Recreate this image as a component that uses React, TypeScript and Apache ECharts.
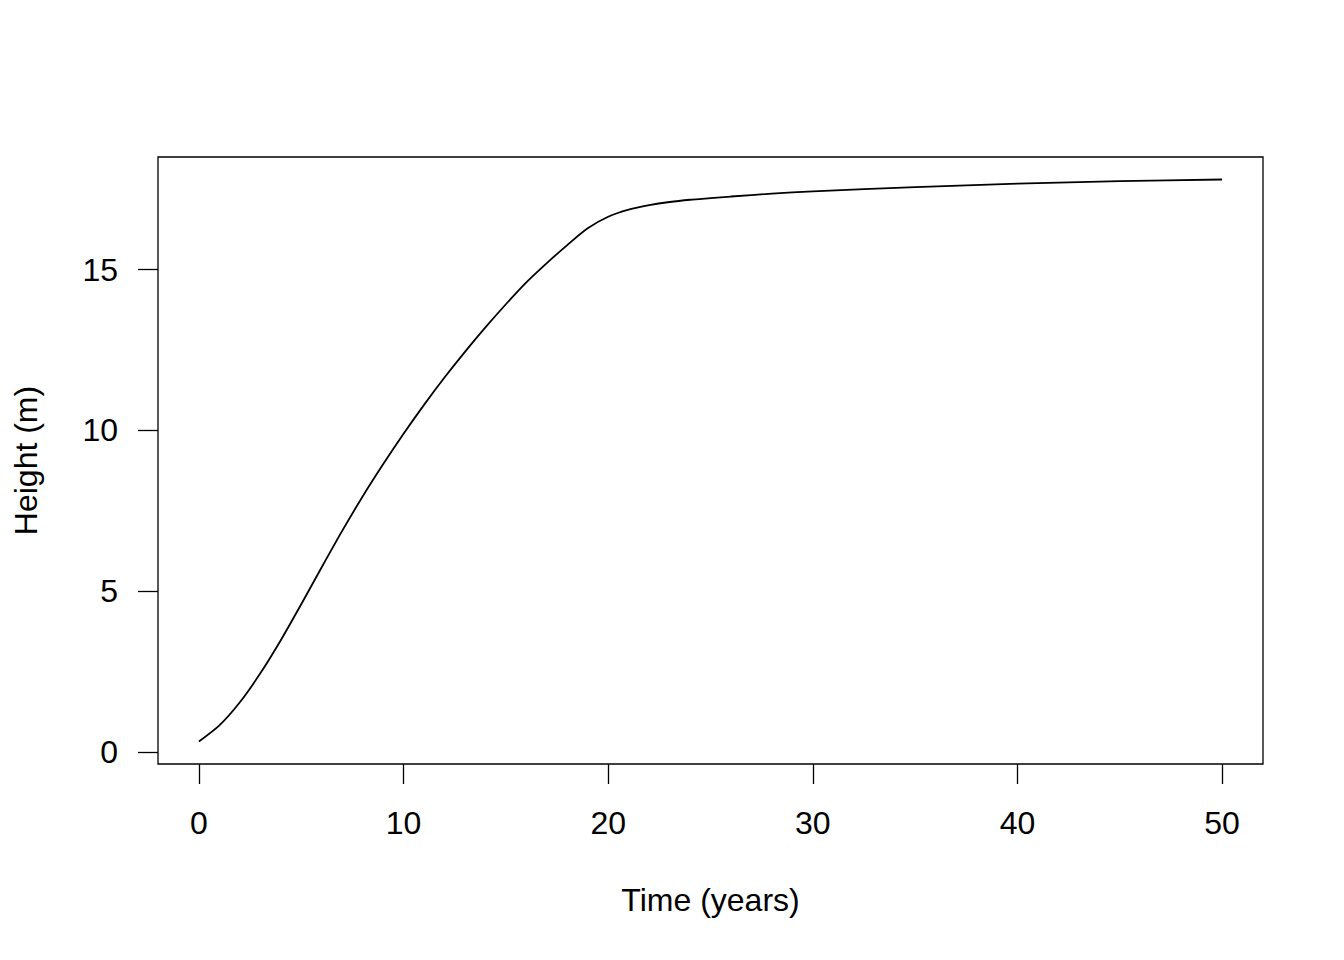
import React, { useEffect, useRef } from "react";
import * as echarts from "echarts";

const timeYears = [0, 1, 2, 3, 4, 5, 6, 7, 8, 9, 10, 11, 12, 13, 14, 15, 16, 17, 18, 19, 20, 21, 22, 23, 24, 25, 26, 28, 30, 35, 40, 45, 50];
const heightM = [0.32, 0.82, 1.54, 2.44, 3.47, 4.59, 5.74, 6.87, 7.94, 8.94, 9.89, 10.79, 11.64, 12.44, 13.2, 13.92, 14.6, 15.2, 15.76, 16.28, 16.64, 16.86, 17.0, 17.1, 17.17, 17.22, 17.27, 17.36, 17.43, 17.56, 17.67, 17.75, 17.8];
const xTicks = [0, 10, 20, 30, 40, 50];
const yTicks = [0, 5, 10, 15];

const FONT = "'Liberation Sans', Arial, Helvetica, sans-serif";

function padRange(vals: number[]) {
  const lo = Math.min(...vals);
  const hi = Math.max(...vals);
  const d = (hi - lo) * 0.04;
  return [lo - d, hi + d];
}

export default function App() {
  const ref = useRef<HTMLDivElement>(null);
  useEffect(() => {
    if (!ref.current) return;
    const chart = echarts.init(ref.current, null, { renderer: "svg" });
    const [xMin, xMax] = padRange(timeYears);
    const [yMin, yMax] = padRange(heightM);
    chart.setOption({
      animation: false,
      backgroundColor: "#fff",
      textStyle: { fontFamily: FONT, color: "#000" },
      grid: {
        left: 158,
        top: 157,
        right: 81,
        bottom: 196,
        show: true,
        borderColor: "#000",
        borderWidth: 1.3,
        containLabel: false,
      },
      xAxis: {
        type: "value",
        min: xMin,
        max: xMax,
        name: "Time (years)",
        nameLocation: "middle",
        nameGap: 120,
        nameTextStyle: { fontSize: 32, color: "#000", fontFamily: FONT },
        axisLine: { show: false, onZero: false },
        splitLine: { show: false },
        axisTick: {
          show: true,
          length: 20,
          inside: false,
          customValues: xTicks,
          lineStyle: { color: "#000", width: 1.3 },
        },
        axisLabel: {
          customValues: xTicks,
          fontSize: 32,
          color: "#000",
          fontFamily: FONT,
          margin: 43,
        },
      },
      yAxis: {
        type: "value",
        min: yMin,
        max: yMax,
        name: "Height (m)",
        nameLocation: "middle",
        nameGap: 116,
        nameRotate: 90,
        nameTextStyle: { fontSize: 32, color: "#000", fontFamily: FONT },
        axisLine: { show: false, onZero: false },
        splitLine: { show: false },
        axisTick: {
          show: true,
          length: 20,
          inside: false,
          customValues: yTicks,
          lineStyle: { color: "#000", width: 1.3 },
        },
        axisLabel: {
          customValues: yTicks,
          fontSize: 32,
          color: "#000",
          fontFamily: FONT,
          margin: 40,
        },
      },
      series: [
        {
          type: "line",
          data: timeYears.map((t, i) => [t, heightM[i]]),
          smooth: 0.25,
          showSymbol: false,
          symbol: "none",
          lineStyle: { color: "#000", width: 1.8 },
        },
      ],
    });
    return () => chart.dispose();
  }, []);
  return (
    <div
      ref={ref}
      style={{ position: "fixed", left: 0, top: 0, width: 1344, height: 960, background: "#fff" }}
    />
  );
}
